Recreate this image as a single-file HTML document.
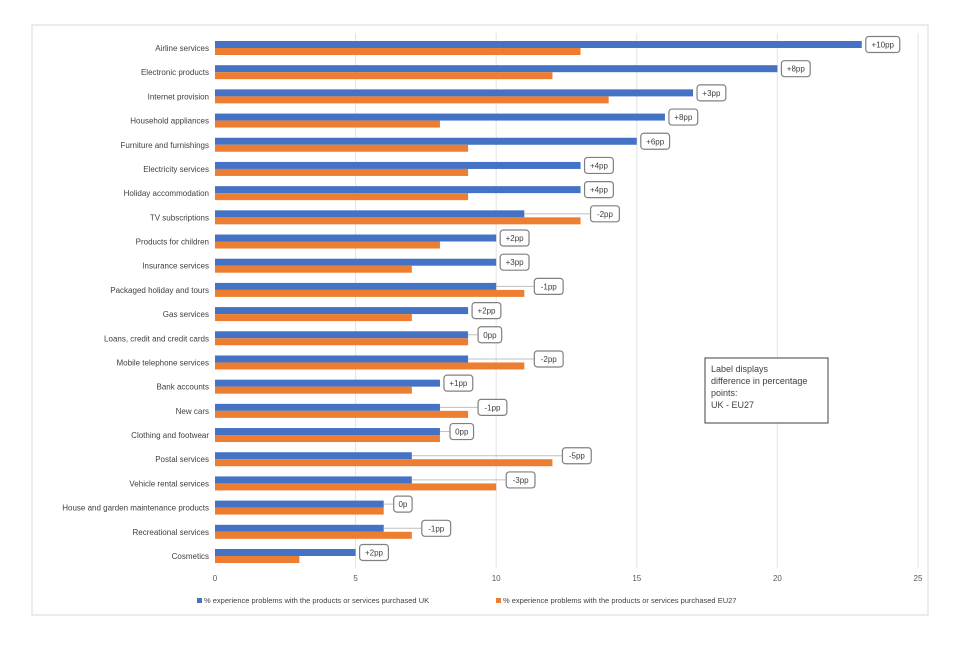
<!DOCTYPE html>
<html><head><meta charset="utf-8"><style>
body{margin:0;background:#fff;font-family:"Liberation Sans",sans-serif}
svg text{font-family:"Liberation Sans",sans-serif}
</style></head><body>
<svg id="c" width="960" height="640" xmlns="http://www.w3.org/2000/svg">
<rect x="32" y="25" width="896" height="590" fill="#fff" stroke="#d9d9d9"/>
<g id="grid"></g><g id="bars"></g><g id="labels"></g>
<g>
<rect x="705" y="358" width="123" height="65" fill="#fff" stroke="#404040"/>
<text x="711" y="372" font-size="9" fill="#404040">Label displays</text>
<text x="711" y="384" font-size="9" fill="#404040">difference  in percentage</text>
<text x="711" y="396" font-size="9" fill="#404040">points:</text>
<text x="711" y="408" font-size="9" fill="#404040">UK - EU27</text>
</g>
<g>
<rect x="197" y="598" width="5" height="5" fill="#4472c4"/>
<text x="204" y="603" font-size="7.5" fill="#404040">% experience problems with the products or services purchased UK</text>
<rect x="496" y="598" width="5" height="5" fill="#ed7d31"/>
<text x="503" y="603" font-size="7.5" fill="#404040">% experience problems with the products or services purchased EU27</text>
</g>
</svg>
<script>
const categories=["Airline services","Electronic products","Internet provision","Household appliances","Furniture and furnishings","Electricity services","Holiday accommodation","TV subscriptions","Products for children","Insurance services","Packaged holiday and tours","Gas services","Loans, credit and credit cards","Mobile telephone services","Bank accounts","New cars","Clothing and footwear","Postal services","Vehicle rental services","House and garden maintenance products","Recreational services","Cosmetics"];
const ukValues=[23,20,17,16,15,13,13,11,10,10,10,9,9,9,8,8,8,7,7,6,6,5];
const eu27Values=[13,12,14,8,9,9,9,13,8,7,11,7,9,11,7,9,8,12,10,6,7,3];
const diffLabels=["+10pp","+8pp","+3pp","+8pp","+6pp","+4pp","+4pp","-2pp","+2pp","+3pp","-1pp","+2pp","0pp","-2pp","+1pp","-1pp","0pp","-5pp","-3pp","0p","-1pp","+2pp"];
const xTicks=[0,5,10,15,20,25];
const NS="http://www.w3.org/2000/svg";
const x=v=>215+v*28.12;
const y=i=>48+i*24.19;
function mk(tag,attrs,parent){const e=document.createElementNS(NS,tag);for(const k in attrs)e.setAttribute(k,attrs[k]);parent.appendChild(e);return e;}
const grid=document.getElementById('grid'),bars=document.getElementById('bars'),labels=document.getElementById('labels');
xTicks.forEach(t=>{
  if(t>0){const l=mk('line',{x1:x(t),x2:x(t),y1:33,y2:568,stroke:'#e3e3e3'},grid);
  
  }
  const tx=mk('text',{x:x(t),y:581,'font-size':8,fill:'#595959','text-anchor':'middle'},grid);
  tx.textContent=t;
  
  
});
categories.forEach((c,i)=>{
  const cy=y(i);
  const t=mk('text',{x:209,y:cy+3,'font-size':8,fill:'#404040','text-anchor':'end'},labels);
  t.textContent=c;
  
  
  const b=mk('rect',{x:x(0),y:cy-7,width:x(ukValues[i])-x(0),height:7,fill:'#4472c4'},bars);
  
  
  const o=mk('rect',{x:x(0),y:cy,width:x(eu27Values[i])-x(0),height:7,fill:'#ed7d31'},bars);
  
  
  const ue=x(ukValues[i]);
  const bx=Math.max(ue,x(eu27Values[i]))+(eu27Values[i]>=ukValues[i]?10:4);
  const w=diffLabels[i].length*5.2+8;
  const by=cy-3.5;
  if(bx-ue>5){const ln=mk('line',{x1:ue,x2:bx,y1:by,y2:by,stroke:'#bfbfbf'},labels);
    
    }
  const r=mk('rect',{x:bx,y:by-8,width:w,height:16,rx:3,fill:'#fff',stroke:'#808080','stroke-width':1.2},labels);
  
  
  const dt=mk('text',{x:bx+w/2,y:by+3,'font-size':8,fill:'#404040','text-anchor':'middle'},labels);
  dt.textContent=diffLabels[i];
  
  
});
</script>
</body></html>
